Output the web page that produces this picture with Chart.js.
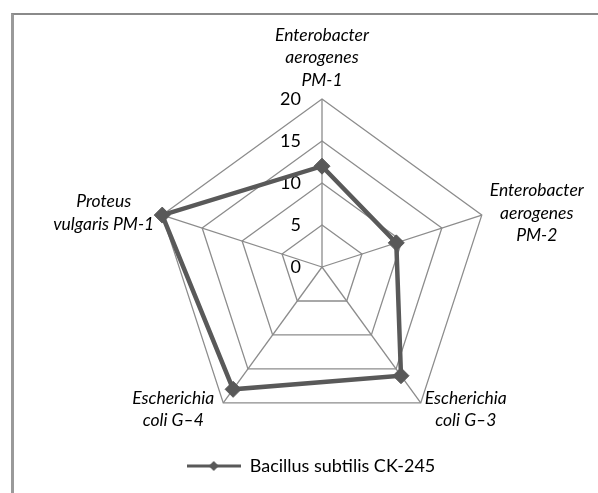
<!DOCTYPE html>
<html>
<head>
<meta charset="utf-8">
<script src="https://cdn.jsdelivr.net/npm/chart.js@4/dist/chart.umd.min.js"></script>
<style>
  html, body { margin: 0; padding: 0; background: #fff; overflow: hidden; }
  #wrap { position: relative; width: 598px; height: 493px; }
  #frame { position: absolute; left: 11px; top: 13px; width: 600px; height: 500px;
           border-left: 3px solid #9a9a9a; border-top: 2px solid #8a8a8a; }
  canvas { position: absolute; left: 0; top: 0; }
</style>
</head>
<body>
<div id="wrap">
  <div id="frame"></div>
  <canvas id="myChart" width="598" height="493"></canvas>
</div>
<script>

// chart data
const categorias = [
  ['Enterobacter', 'aerogenes', 'PM-1'],
  ['Enterobacter', 'aerogenes', 'PM-2'],
  ['Escherichia', 'coli G\u20133'],
  ['Escherichia', 'coli G\u20134'],
  ['Proteus', 'vulgaris PM-1']
]
const valores = [12, 9.3, 16, 18, 20]
const serie = 'Bacillus subtilis CK-245'
const ticks = [0, 5, 10, 15, 20]

Chart.defaults.font.family = 'Lato'

// little legend symbol: line with a diamond in the middle
const simbolo = document.createElement('canvas')
simbolo.width = 54
simbolo.height = 12
{
  const c = simbolo.getContext('2d')
  c.strokeStyle = '#595959'
  c.lineWidth = 3
  c.beginPath(); c.moveTo(0, 6); c.lineTo(54, 6); c.stroke()
  c.fillStyle = '#595959'
  c.beginPath()
  c.moveTo(27 - 5, 6); c.lineTo(27, 1); c.lineTo(27 + 5, 6); c.lineTo(27, 11)
  c.closePath(); c.fill()
}

// tick numbers drawn left of the vertical axis (incl. the 0)
const etiquetasTicks = {
  id: 'etiquetasTicks',
  beforeDatasetsDraw(chart) {
    const s = chart.scales.r
    const ctx = chart.ctx
    ctx.save()
    ctx.font = '18px Lato'
    ctx.fillStyle = '#000'
    ctx.textAlign = 'right'
    ctx.textBaseline = 'middle'
    ticks.forEach(t => {
      ctx.fillText(String(t), s.xCenter - 21, s.yCenter - s.getDistanceFromCenterForValue(t))
    })
    ctx.restore()
  }
}

// category names around the pentagon
const etiquetasPuntos = {
  id: 'etiquetasPuntos',
  afterDraw(chart) {
    const s = chart.scales.r
    const ctx = chart.ctx
    const lh = 22.5
    ctx.save()
    ctx.font = 'italic 17.5px Lato'
    ctx.fillStyle = '#000'
    ctx.textAlign = 'center'
    ctx.textBaseline = 'middle'
    categorias.forEach((lineas, i) => {
      const v = s.getPointPosition(i, s.drawingArea)
      const dx = v.x - s.xCenter
      const dy = v.y - s.yCenter
      const w = Math.max(...lineas.map(l => ctx.measureText(l).width))
      const n = lineas.length
      let cx, y0
      if (Math.abs(dx) < 1) {
        cx = v.x
        y0 = v.y - 19 - (n - 1) * lh
      } else if (dy < 0) {
        cx = dx > 0 ? v.x + 8 + w / 2 : v.x - 8 - w / 2
        y0 = v.y - 2 - (n - 1) * lh / 2
      } else {
        cx = dx > 0 ? v.x + 4 + w / 2 : v.x - 9 - w / 2
        y0 = v.y - 5
      }
      lineas.forEach((l, k) => ctx.fillText(l, cx, y0 + k * lh))
    })
    ctx.restore()
  }
}

// legend sits a bit left of the plot centre in the original
const correrLeyenda = {
  id: 'correrLeyenda',
  afterLayout(chart) {
    chart.legend.left -= 11
    chart.legend.right -= 11
  }
}

const data = {
  labels: categorias,
  datasets: [{
    label: serie,
    data: valores,
    borderColor: '#595959',
    backgroundColor: '#595959',
    borderWidth: 4.5,
    fill: false,
    pointStyle: 'rectRot',
    pointRadius: 8,
    pointBackgroundColor: '#595959',
    pointBorderColor: '#595959',
    pointBorderWidth: 1
  }]
}

const config = {
  type: 'radar',
  data: data,
  options: {
    responsive: false,
    animation: false,
    layout: {
      padding: { left: 154, right: 108, top: 87, bottom: 8 }
    },
    scales: {
      r: {
        min: 0,
        max: 20,
        ticks: { display: false, stepSize: 5 },
        pointLabels: { display: false },
        grid: { color: '#8c8c8c', lineWidth: 1.3 },
        angleLines: { color: '#8c8c8c', lineWidth: 1.3 }
      }
    },
    plugins: {
      legend: {
        position: 'bottom',
        labels: {
          usePointStyle: true,
          pointStyle: simbolo,
          pointStyleWidth: 54,
          color: '#000',
          font: { size: 18, family: 'Lato' }
        }
      },
      tooltip: { enabled: false }
    }
  },
  plugins: [etiquetasTicks, etiquetasPuntos, correrLeyenda]
}

const myChart = new Chart(document.getElementById('myChart'), config)

</script>
</body>
</html>
